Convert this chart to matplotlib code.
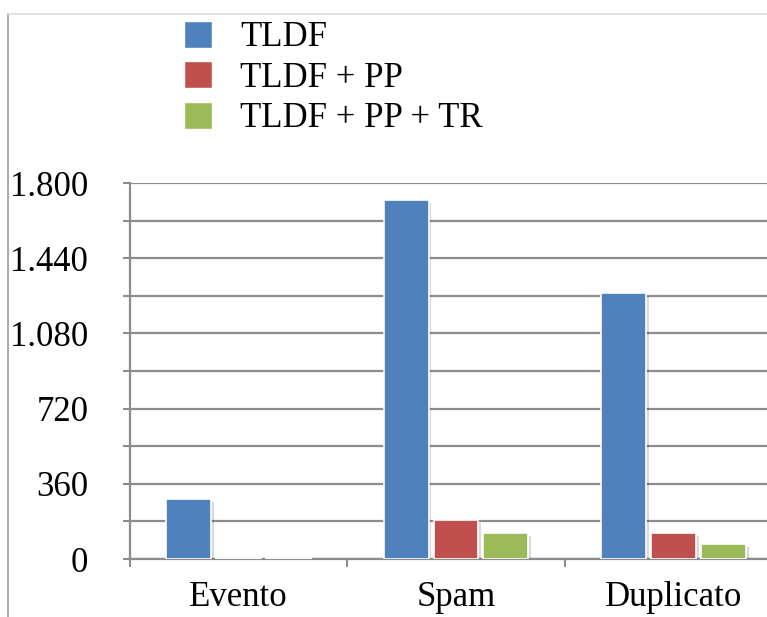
import numpy as np
import matplotlib.pyplot as plt
import matplotlib.patheffects as pe
from matplotlib.lines import Line2D
from matplotlib.patches import Patch

plt.rcParams['font.family'] = ['Liberation Serif', 'DejaVu Serif']

categories = ["Evento", "Spam", "Duplicato"]
series_names = ["TLDF", "TLDF + PP", "TLDF + PP + TR"]
tldf = [288, 1718, 1272]
tldf_pp = [4, 186, 124]
tldf_pp_tr = [3, 124, 72]
colors = ["#4f81bd", "#c0504d", "#9bbb59"]

fig = plt.figure(figsize=(7.67, 6.17), dpi=100)
# plot area runs past the right edge of the figure
ax = fig.add_axes([130 / 767, 1 - 559 / 617, 652 / 767, 376 / 617])

x = np.arange(len(categories))
step = 0.23
width = 0.207
shadow = [pe.SimplePatchShadow(offset=(2, -2), shadow_rgbFace='black', alpha=0.15), pe.Normal()]
for i, (vals, col) in enumerate(zip([tldf, tldf_pp, tldf_pp_tr], colors)):
    ax.bar(x + (i - 1) * step, vals, width=width, color=col, edgecolor='white',
           linewidth=1.2, zorder=3, path_effects=shadow)

ax.set_xlim(-0.5, 2.5)
ax.set_ylim(0, 1800)

grid_col = "#8c8c8c"
ax.set_yticks(np.arange(0, 1801, 360))
ax.set_yticks(np.arange(180, 1800, 360), minor=True)
ax.set_yticklabels([f"{v:,}".replace(",", ".") for v in range(0, 1801, 360)],
                   fontsize=25)
ax.tick_params(axis='y', which='both', length=5, width=1.5, color=grid_col, pad=25)
ax.grid(axis='y', which='both', color=grid_col, linewidth=1.6, zorder=0)

ax.set_xticks([-0.5, 0.5, 1.5, 2.5])
ax.set_xticklabels([])
ax.set_xticks(x, minor=True)
ax.set_xticklabels(categories, minor=True, fontsize=25)
ax.tick_params(axis='x', which='major', length=6, width=1.5, color=grid_col, direction='out')
ax.tick_params(axis='x', which='minor', length=0, pad=16)

for side in ['top', 'right']:
    ax.spines[side].set_visible(False)
for side in ['left', 'bottom']:
    ax.spines[side].set_color(grid_col)
    ax.spines[side].set_linewidth(1.6)

handles = [Patch(facecolor=c, edgecolor='white') for c in colors]
fig.legend(handles, series_names, loc='upper left', bbox_to_anchor=(184 / 767, 1 - 21 / 617),
           frameon=False, fontsize=25, handlelength=0.81, handleheight=0.81,
           handletextpad=0.8, labelspacing=0.2, borderpad=0, borderaxespad=0)

# outer frame lines of the chart area
fig.add_artist(Line2D([8 / 767, 8 / 767], [0, 1 - 14 / 617], transform=fig.transFigure,
                      color="#9a9a9a", linewidth=1.2))
fig.add_artist(Line2D([8 / 767, 1], [1 - 14 / 617, 1 - 14 / 617], transform=fig.transFigure,
                      color="#dcdcdc", linewidth=1.2))

fig.savefig("out.png", dpi=100)
